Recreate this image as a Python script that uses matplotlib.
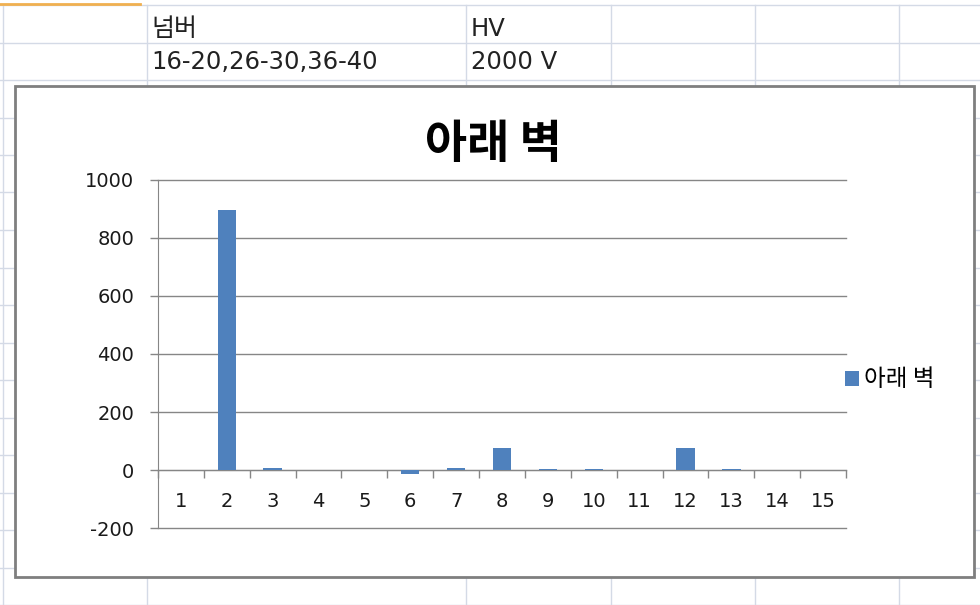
import numpy as np
import matplotlib.pyplot as plt
from matplotlib.patches import Rectangle
from matplotlib.lines import Line2D

plt.rcParams['font.family'] = ['DejaVu Sans', 'Noto Sans CJK KR']
plt.rcParams['axes.unicode_minus'] = False

# 데이터
categories = ['1', '2', '3', '4', '5', '6', '7', '8', '9', '10', '11', '12', '13', '14', '15']
values = [0, 895, 7, 0, 0, -14, 6, 76, 5, 5, 0, 76, 5, 0, 0]
series_name = '아래 벽'
yticks = [-200, 0, 200, 400, 600, 800, 1000]

# 셀 내용
cell_labels = ['넘버', 'HV']
cell_values = ['16-20,26-30,36-40', '2000 V']

W, H = 980, 605
fig = plt.figure(figsize=(W / 100, H / 100), dpi=100)

def fx(px):
    return px / W

def fy(py):
    return 1 - py / H

kr = ['Noto Sans CJK KR', 'DejaVu Sans']

# 엑셀 격자
grid_col = '#d4dae6'
for xc in [3, 147, 466, 611, 755, 899]:
    fig.add_artist(Line2D([fx(xc), fx(xc)], [0, fy(5)], color=grid_col, lw=1, zorder=0))
for k in range(17):
    yr = 5 + 37.5 * k
    fig.add_artist(Line2D([0, 1], [fy(yr), fy(yr)], color=grid_col, lw=1, zorder=0))
fig.add_artist(Line2D([0, fx(140)], [fy(4), fy(4)], color='#f0b050', lw=2, zorder=1))

fig.text(fx(151), fy(29), cell_labels[0], fontsize=18, va='center', color='#222222')
fig.text(fx(471), fy(29), cell_labels[1], fontsize=17.5, va='center', color='#222222')
fig.text(fx(151), fy(62), cell_values[0], fontsize=17.5, va='center', color='#222222')
fig.text(fx(471), fy(62), cell_values[1], fontsize=17.5, va='center', color='#222222')

# 차트 영역
fig.add_artist(Rectangle((fx(15), fy(577)), fx(974) - fx(15), fy(86) - fy(577),
                         facecolor='white', edgecolor='#7f7f7f', lw=2, zorder=2))

ax = fig.add_axes([fx(158), fy(528), fx(846) - fx(158), fy(180) - fy(528)], zorder=3)
ax.patch.set_alpha(0)

x = np.arange(1, len(categories) + 1)
bars = ax.bar(x, values, width=0.4, color='#4f81bd', zorder=3, label=series_name)

ax.set_xlim(0.5, len(categories) + 0.5)
ax.set_ylim(yticks[0], yticks[-1])
ax.set_yticks(yticks)
ax.tick_params(axis='y', length=6, width=1, color='#868686', pad=11, labelsize=14)
ax.grid(axis='y', color='#868686', lw=1, zorder=1)
for gl in ax.get_ygridlines():
    gl.set_clip_on(False)

for s in ['top', 'right']:
    ax.spines[s].set_visible(False)
ax.spines['left'].set_color('#868686')
ax.spines['bottom'].set_position(('data', 0))
ax.spines['bottom'].set_color('#868686')

ax.set_xticks(np.arange(0.5, len(categories) + 1, 1))
ax.set_xticklabels([])
ax.set_xticks(x, minor=True)
ax.set_xticklabels(categories, minor=True)
ax.tick_params(axis='x', which='major', length=6, width=1, color='#868686')
ax.tick_params(axis='x', which='minor', length=0, pad=16, labelsize=14)

for lab in ax.get_xticklabels(minor=True) + ax.get_yticklabels():
    lab.set_color('#1a1a1a')

fig.text(fx(493), fy(145), '아래 벽', fontsize=33, fontweight='bold', family=kr,
         ha='center', va='center', zorder=4)

fig.legend(handles=[bars], labels=[series_name], loc='center left',
           bbox_to_anchor=(fx(824), fy(380)), frameon=False,
           prop={'family': kr, 'size': 17},
           handlelength=0.6, handleheight=0.6, handletextpad=0.2)

fig.savefig('out.png', dpi=100)
